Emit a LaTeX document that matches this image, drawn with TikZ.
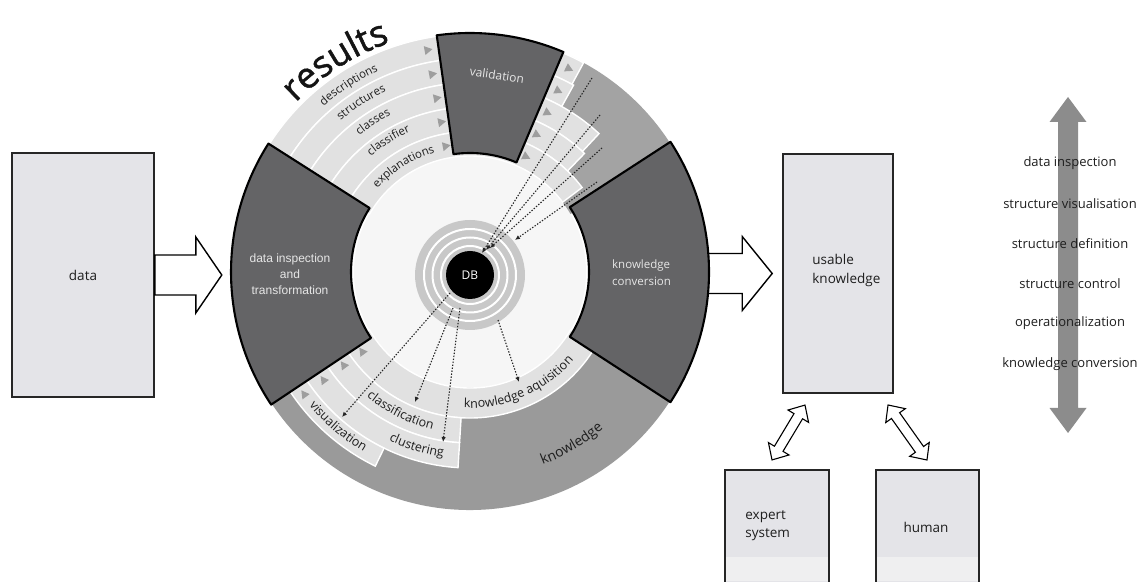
\documentclass[tikz,border=0pt]{standalone}
\usepackage{fontspec}
\setmainfont{Open Sans}
\newfontfamily\arialfont{Liberation Sans}
\newfontfamily\resfont[FakeBold=1.3]{Open Sans}
\usetikzlibrary{decorations.text,arrows.meta}
\definecolor{darkblk}{HTML}{646466}
\definecolor{kgray}{HTML}{9A9A9A}
\definecolor{tgray}{HTML}{A3A3A3}
\definecolor{band}{HTML}{E1E1E1}
\definecolor{disk}{HTML}{F6F6F6}
\definecolor{boxfill}{HTML}{E4E4E8}
\definecolor{lowfill}{HTML}{EFEFF0}
\definecolor{vgray}{HTML}{8C8C8C}
\definecolor{ringgray}{HTML}{C8C8C8}
\definecolor{trigray}{HTML}{9E9E9E}
\definecolor{txt}{HTML}{1E1E1E}
\definecolor{blktxt}{HTML}{E6E6E6}
\newcommand\sect[4]{(#1:#3) arc[start angle=#1,end angle=#2,radius=#3] -- (#2:#4) arc[start angle=#2,end angle=#1,radius=#4] -- cycle}
\newcommand\tri[2]{\fill[trigray,shift={(#1:#2)},rotate=#1-90] (4.5,0) -- (-3.5,4.5) -- (-3.5,-4.5) -- cycle;}
\newcommand\toplabel[4]{\path[decorate,decoration={text along path,text align=center,text color=txt,text={|\fontsize{#3}{#3}\selectfont|#4}}] (#1+40:#2) arc[start angle=#1+40,end angle=#1-40,radius=#2];}
\newcommand\botlabel[4]{\path[decorate,decoration={text along path,text align=center,text color=txt,text={|\fontsize{#3}{#3}\selectfont|#4}}] (#1-40:#2) arc[start angle=#1-40,end angle=#1+40,radius=#2];}
\newcommand\dblarrow[3]{\begin{scope}[shift={#1},rotate=#2]
\draw[blockarr,line width=1.1pt] (-#3,0) -- (-#3+13,12) -- (-#3+13,5) -- (#3-13,5) -- (#3-13,12) -- (#3,0) -- (#3-13,-12) -- (#3-13,-5) -- (-#3+13,-5) -- (-#3+13,-12) -- cycle;
\end{scope}}
\tikzset{
 box/.style={draw=black!85,line width=1.6pt,fill=boxfill,text=txt,font=\fontsize{13.5}{16}\selectfont},
 blockarr/.style={draw=black,line width=1.4pt,fill=white,line join=miter},
 blk/.style={fill=darkblk,draw=black,line width=2.1pt,line join=round},
 bandsty/.style={fill=band,draw=white,line width=1.4pt},
 dotarr/.style={draw=black!85,line width=1.1pt,dash pattern=on 1.4pt off 1.6pt,-{Latex[length=5pt,width=4.5pt]}},
 listlbl/.style={text=txt,font=\fontsize{13}{15}\selectfont},
}
\begin{document}
\begin{tikzpicture}[x=1pt,y=1pt]
\useasboundingbox (0,0) rectangle (1145,581);
\clip (0,0) rectangle (1145,581);
\fill[white] (0,0) rectangle (1145,581);

% boxes
\node[box,minimum width=142,minimum height=244] (data) at (83,306) {data};
\node[box,minimum width=110,minimum height=239] (uk) at (838,307.5) {};
\node[anchor=west,align=left,text=txt,font=\fontsize{13.5}{19}\selectfont,inner sep=0] (uktxt) at ([xshift=30,yshift=3]uk.west) {usable\\knowledge};
\node[box,minimum width=104,minimum height=114] (expert) at (777,54) {};
\node[box,minimum width=103,minimum height=114] (human) at (927.5,54) {};
\fill[lowfill] (725.8,0) rectangle (828.2,24);
\fill[lowfill] (876.8,0) rectangle (978.2,24);
\node[anchor=west,align=left,text=txt,font=\fontsize{13.5}{18}\selectfont,inner sep=0] (extxt) at ([xshift=21,yshift=1]expert.west) {expert\\system};
\node[text=txt,font=\fontsize{13.5}{16}\selectfont] (hutxt) at (926,54) {human};

% block arrows
\draw[blockarr] ([yshift=20]data.east) -- ++(41,0) -- ++(0,18) -- ++(26,-38) -- ++(-26,-38) -- ++(0,18) -- ++(-41,0) -- cycle;
\draw[blockarr] ([xshift=-93,yshift=20]uk.west) -- ++(53,0) -- ++(0,17) -- ++(30,-37) -- ++(-30,-37) -- ++(0,17) -- ++(-53,0) -- cycle;

% double arrows
\coordinate (ea) at (788.5,148.5);
\coordinate (ha) at (907.5,148.5);
\dblarrow{(ea)}{59}{32}
\dblarrow{(ha)}{125.3}{33.7}

% ring
\begin{scope}[shift={(470,309)}]
\fill[disk] (0,0) circle[radius=116];
\fill[tgray] \sect{30}{68}{116}{238};
\fill[kgray] \sect{212}{328}{116}{238};
% top bands
\foreach \ri/\ro/\e in {213.6/238/61.5, 189.2/213.6/61, 164.8/189.2/47, 140.4/164.8/46, 116/140.4/37}
  \filldraw[bandsty] \sect{150}{\e}{\ri}{\ro};
% bottom bands
\filldraw[bandsty] \sect{210}{330}{116}{146};
\filldraw[bandsty] \sect{210}{266.5}{146}{171};
\filldraw[bandsty] \sect{210}{266.5}{171}{196};
\filldraw[bandsty] \sect{210}{244}{196}{216};
% triangles
\foreach \r in {226,201.4,177,152.6,128.2} {\tri{100.7}{\r}\tri{64}{\r}}
\foreach \r in {206,182,157,134} {\tri{216.3}{\r}}
% DB rings
\fill[ringgray] (0,-3) circle[radius=55];
\foreach \r in {46,37.5,29} \draw[white,line width=2pt] (0,-3) circle[radius=\r];
\end{scope}
\node[circle,fill=black,minimum size=48,inner sep=0,text=white,font=\fontsize{12}{14}\selectfont] (db) at (470,306) {DB};

% dotted arrows
\coordinate (tA) at (592,503); \coordinate (dA) at (482,328);
\coordinate (tB) at (600,466); \coordinate (dB) at (486,331);
\coordinate (tC) at (602,433); \coordinate (dC) at (490,333);
\coordinate (tD) at (597,399); \coordinate (dD) at (515,341);
\draw[dotarr] (tA) -- (dA);
\draw[dotarr] (tB) -- (dB);
\draw[dotarr] (tC) -- (dC);
\draw[dotarr] (tD) -- (dD);
\coordinate (sV) at (450,288); \coordinate (eV) at (342,164);
\coordinate (sCl) at (453,273); \coordinate (eCl) at (415,179);
\coordinate (sCu) at (460,273); \coordinate (eCu) at (443,139);
\coordinate (sKA) at (498,261); \coordinate (eKA) at (519,199);
\draw[dotarr] (sV) -- (eV);
\draw[dotarr] (sCl) -- (eCl);
\draw[dotarr] (sCu) -- (eCu);
\draw[dotarr] (sKA) -- (eKA);

\begin{scope}[shift={(470,309)}]
% dark blocks
\filldraw[blk] \sect{147.5}{213.7}{119}{239};
\filldraw[blk] \sect{67}{98}{119}{239};
\filldraw[blk] \sect{-33}{33}{119}{239};
% labels
\path[decorate,decoration={text along path,text align=center,text color=black!92,text={|\resfont\fontsize{36}{36}\selectfont|results}}] (160:243) arc[start angle=160,end angle=85,radius=243];
\toplabel{123}{221}{11.5}{descriptions}
\toplabel{122.7}{199}{11.5}{structures}
\toplabel{122.9}{175.6}{11.5}{classes}
\toplabel{121.8}{152.4}{11.5}{classifier}
\toplabel{122.2}{124.6}{11.5}{explanations}
\botlabel{293.5}{136}{12.5}{knowledge aquisition}
\botlabel{243.5}{162}{12.5}{classification}
\botlabel{253}{187}{12.5}{clustering}
\botlabel{229.5}{209}{12.5}{visualization}
\botlabel{300.5}{206}{14}{knowledge}
\node[rotate=-8,text=blktxt,font=\fontsize{12}{14}\selectfont] (valtxt) at (82.2:199) {validation};
\end{scope}
\node[anchor=west,align=left,text=blktxt,font=\fontsize{11.5}{17}\selectfont,inner sep=0] (kctxt) at (612,308.5) {knowledge\\conversion};
\node[align=center,text=blktxt,font=\arialfont\fontsize{12}{16}\selectfont] (ditxt) at (290,307) {data inspection\\and\\transformation};

% right scale arrow
\fill[vgray] (1058,459) -- (1049.5,459) -- (1068,484) -- (1086.5,459) -- (1078,459) -- (1078,173) -- (1086.5,173) -- (1068,148) -- (1049.5,173) -- (1058,173) -- cycle;
\node[listlbl] (l1) at (1070,418) {data inspection};
\node[listlbl] (l2) at (1070,377) {structure visualisation};
\node[listlbl] (l3) at (1070,337) {structure definition};
\node[listlbl] (l4) at (1070,297) {structure control};
\node[listlbl] (l5) at (1070,258) {operationalization};
\node[listlbl] (l6) at (1070,217) {knowledge conversion};
\end{tikzpicture}
\end{document}
